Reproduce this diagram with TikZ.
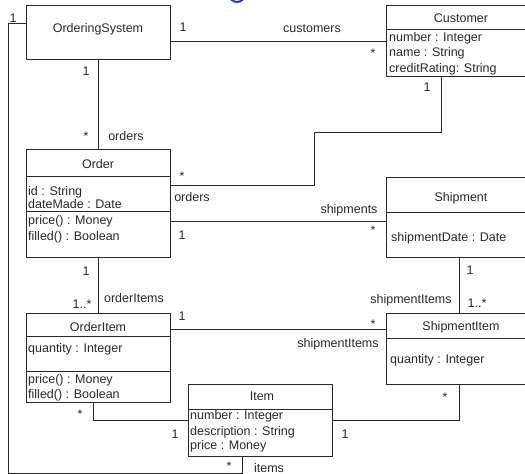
\documentclass[tikz,border=0pt]{standalone}
\usepackage{fontspec}
\setmainfont{Liberation Sans}
\definecolor{logoblue}{RGB}{50,50,205}
\definecolor{ink}{RGB}{40,40,40}
\begin{document}
\begin{tikzpicture}[x=1pt,y=-1pt,
  box/.style={draw=ink, line width=0.9pt, anchor=north west, inner sep=0pt, outer sep=0pt},
  assoc/.style={draw=ink, line width=0.9pt},
  lbl/.style={inner sep=0pt, anchor=base, text=ink, font=\fontsize{12.5}{14}\selectfont},
  attr/.style={lbl, anchor=base west}]
\useasboundingbox (0,0) rectangle (525,474);
\clip (0,0) rectangle (525,474);

% partial logo ring at the top edge
\draw[logoblue, line width=2pt] (237,-6) circle [radius=8pt];

% classes
\node[box, minimum width=144pt, minimum height=54pt]  (os)   at (26,5)    {};
\node[box, minimum width=150pt, minimum height=71pt]  (cust) at (386,5)   {};
\node[box, minimum width=144pt, minimum height=108pt] (ord)  at (26,149)  {};
\node[box, minimum width=150pt, minimum height=80pt]  (ship) at (386,177) {};
\node[box, minimum width=144pt, minimum height=89pt]  (oi)   at (26,313)  {};
\node[box, minimum width=150pt, minimum height=71pt]  (si)   at (386,313) {};
\node[box, minimum width=144pt, minimum height=72pt]  (item) at (188,384) {};

% compartment separators
\draw[assoc] (cust.west |- 0,29)  -- (cust.east |- 0,29);
\draw[assoc] (ord.west |- 0,176)  -- (ord.east |- 0,176);
\draw[assoc] (ord.west |- 0,211)  -- (ord.east |- 0,211);
\draw[assoc] (ship.west |- 0,212) -- (ship.east |- 0,212);
\draw[assoc] (oi.west |- 0,336)   -- (oi.east |- 0,336);
\draw[assoc] (oi.west |- 0,371)   -- (oi.east |- 0,371);
\draw[assoc] (si.west |- 0,338)   -- (si.east |- 0,338);
\draw[assoc] (item.west |- 0,409) -- (item.east |- 0,409);

% class names
\node[lbl] (osN)   at (98,32.5)   {OrderingSystem};
\node[lbl] (custN) at (461,22.5)  {Customer};
\node[lbl] (ordN)  at (98,168.5)  {Order};
\node[lbl] (shipN) at (461,201.5) {Shipment};
\node[lbl] (oiN)   at (98,331.5)  {OrderItem};
\node[lbl] (siN)   at (461,330.5) {ShipmentItem};
\node[lbl] (itemN) at (262,400.5) {Item};

% attributes and operations
\node[attr] (c1) at (389,41.5) {number : Integer};
\node[attr] (c2) at (389,56.5) {name : String};
\node[attr] (c3) at (389,72.5) {creditRating: String};
\node[attr] (o1) at (28,195.5) {id : String};
\node[attr] (o2) at (28,208.5) {dateMade : Date};
\node[attr] (o3) at (28,224.5) {price() : Money};
\node[attr] (o4) at (28,240.5) {filled() : Boolean};
\node[attr] (s1) at (391,241.5) {shipmentDate : Date};
\node[attr] (i1) at (28,352.5) {quantity : Integer};
\node[attr] (i2) at (28,383)   {price() : Money};
\node[attr] (i3) at (28,398)   {filled() : Boolean};
\node[attr] (q1) at (390,363.5) {quantity : Integer};
\node[attr] (t1) at (190,419.5) {number : Integer};
\node[attr] (t2) at (190,435.5) {description : String};
\node[attr] (t3) at (190,449.5) {price : Money};

% associations
\draw[assoc] (os.east |- 0,41) -- (cust.west |- 0,41);
\draw[assoc] (os.south) -- (ord.north);
\draw[assoc] (ord.east |- 0,185) -| (314,132) -| (cust.south -| 441,0);
\draw[assoc] (ord.east |- 0,221) -- (ship.west |- 0,221);
\draw[assoc] (ship.south -| 459,0) -- (si.north -| 459,0);
\draw[assoc] (ord.south) -- (oi.north);
\draw[assoc] (oi.east |- 0,329) -- (si.west |- 0,329);
\draw[assoc] (oi.south -| 93,0) |- (item.west |- 0,420);
\draw[assoc] (si.south -| 459,0) |- (item.east |- 0,420);
\draw[assoc] (item.south -| 242,0) -- (242,473) -| (8,23) -- (os.west |- 0,23);

% multiplicities and role names
\node[lbl] (m1)  at (13,22)    {1};
\node[lbl] (m2)  at (183,31.5) {1};
\node[lbl] (r1)  at (312,32.5) {customers};
\node[lbl] (m3)  at (373,57)   {*};
\node[lbl] (m4)  at (427,91.5) {1};
\node[lbl] (m5)  at (86,75.5)  {1};
\node[lbl] (m6)  at (86,140)   {*};
\node[lbl] (r2)  at (126,140.5) {orders};
\node[lbl] (m7)  at (182,180)  {*};
\node[lbl] (r3)  at (192,201.5) {orders};
\node[lbl] (m8)  at (182,239.5) {1};
\node[lbl] (r4)  at (349,213.5) {shipments};
\node[lbl] (m9)  at (373,234)  {*};
\node[lbl] (m10) at (470,274.5) {1};
\node[lbl] (m11) at (477,307)  {1..*};
\node[lbl] (r5)  at (411,303.5) {shipmentItems};
\node[lbl] (m12) at (86,275.5) {1};
\node[lbl] (m13) at (82,308.5) {1..*};
\node[lbl] (r6)  at (134,302.5) {orderItems};
\node[lbl] (m14) at (182,320.5) {1};
\node[lbl] (m15) at (373,328)  {*};
\node[lbl] (r7)  at (338,347.5) {shipmentItems};
\node[lbl] (m16) at (445,401)  {*};
\node[lbl] (m17) at (345,438)  {1};
\node[lbl] (m18) at (80,418)   {*};
\node[lbl] (m19) at (175,438)  {1};
\node[lbl] (m20) at (229,470)  {*};
\node[lbl] (r8)  at (269,472.5) {items};
\end{tikzpicture}
\end{document}
